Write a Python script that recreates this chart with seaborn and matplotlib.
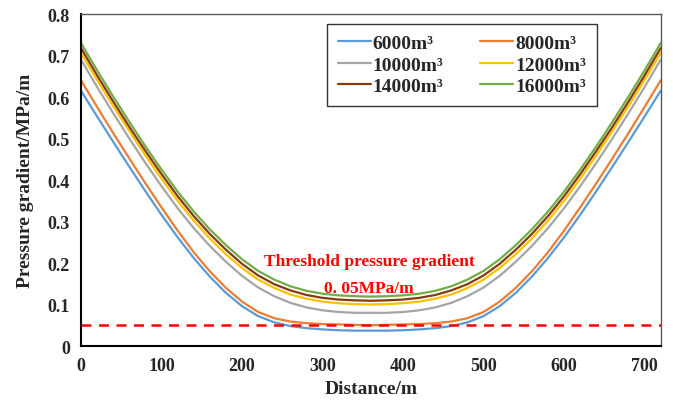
import numpy as np
import pandas as pd
import seaborn as sns
from matplotlib import pyplot as plt

# distance along the fracture, m
distance = list(range(0, 721, 20))

grad_6000 = [0.615, 0.553, 0.492, 0.432, 0.373, 0.316, 0.262, 0.212, 0.167, 0.128, 0.096, 0.072, 0.057,
             0.048, 0.043, 0.040, 0.038, 0.037, 0.037,
             0.037, 0.038, 0.040, 0.043, 0.048, 0.057, 0.072, 0.096, 0.128, 0.167, 0.212, 0.262,
             0.316, 0.373, 0.432, 0.492, 0.553, 0.615]
grad_8000 = [0.640, 0.576, 0.513, 0.452, 0.392, 0.334, 0.278, 0.226, 0.180, 0.140, 0.107, 0.082, 0.067,
             0.059, 0.055, 0.053, 0.052, 0.051, 0.050,
             0.051, 0.052, 0.053, 0.055, 0.059, 0.067, 0.082, 0.107, 0.140, 0.180, 0.226, 0.278,
             0.334, 0.392, 0.452, 0.513, 0.576, 0.640]
grad_10000 = [0.690, 0.624, 0.561, 0.500, 0.441, 0.385, 0.332, 0.284, 0.241, 0.203, 0.169, 0.141, 0.120,
              0.104, 0.093, 0.086, 0.082, 0.080, 0.080,
              0.080, 0.082, 0.086, 0.093, 0.104, 0.120, 0.141, 0.169, 0.203, 0.241, 0.284, 0.332,
              0.385, 0.441, 0.500, 0.561, 0.624, 0.690]
grad_12000 = [0.706, 0.641, 0.578, 0.518, 0.459, 0.403, 0.350, 0.302, 0.259, 0.221, 0.188, 0.160, 0.140,
              0.124, 0.114, 0.107, 0.103, 0.101, 0.100,
              0.101, 0.103, 0.107, 0.114, 0.124, 0.140, 0.160, 0.188, 0.221, 0.259, 0.302, 0.350,
              0.403, 0.459, 0.518, 0.578, 0.641, 0.706]
grad_14000 = [0.718, 0.652, 0.589, 0.528, 0.470, 0.414, 0.361, 0.313, 0.270, 0.232, 0.198, 0.170, 0.149,
              0.134, 0.123, 0.116, 0.112, 0.110, 0.109,
              0.110, 0.112, 0.116, 0.123, 0.134, 0.149, 0.170, 0.198, 0.232, 0.270, 0.313, 0.361,
              0.414, 0.470, 0.528, 0.589, 0.652, 0.718]
grad_16000 = [0.730, 0.664, 0.601, 0.540, 0.481, 0.425, 0.372, 0.324, 0.281, 0.243, 0.209, 0.181, 0.160,
              0.144, 0.133, 0.126, 0.122, 0.120, 0.119,
              0.120, 0.122, 0.126, 0.133, 0.144, 0.160, 0.181, 0.209, 0.243, 0.281, 0.324, 0.372,
              0.425, 0.481, 0.540, 0.601, 0.664, 0.730]

labels = ['6000m³', '8000m³', '10000m³', '12000m³', '14000m³', '16000m³']
colors = ['#5B9BD5', '#ED7D31', '#A5A5A5', '#FFC000', '#843C0C', '#70AD47']
threshold = 0.05

series = [grad_6000, grad_8000, grad_10000, grad_12000, grad_14000, grad_16000]
frames = []
for lab, vals in zip(labels, series):
    frames.append(pd.DataFrame({'Distance': distance, 'Gradient': vals, 'Volume': lab}))
df = pd.concat(frames, ignore_index=True)

sns.set_style('white')
plt.rcParams['font.family'] = ['Liberation Serif', 'DejaVu Serif']
plt.rcParams['font.weight'] = 'bold'

fig = plt.figure(figsize=(6.73, 4.06), dpi=100)
ax = fig.add_axes([0.1204, 0.1453, 0.8613, 0.8177])

sns.lineplot(data=df, x='Distance', y='Gradient', hue='Volume',
             palette=colors, linewidth=1.6, ax=ax, sort=False)

ax.axhline(threshold, color='#FF0000', linestyle=(0, (4, 3)), linewidth=1.8)
ax.text(358, 0.205, 'Threshold pressure gradient', color='#FF0000',
        fontsize=12.5, fontweight='bold', ha='center', va='center')
ax.text(358, 0.140, '0. 05MPa/m', color='#FF0000',
        fontsize=12.5, fontweight='bold', ha='center', va='center')

ax.set_xlim(0, 720)
ax.set_ylim(0, 0.8)
ax.set_xticks(range(0, 701, 100))
ax.set_yticks(np.arange(0, 0.81, 0.1))
ax.set_yticklabels(['0', '0.1', '0.2', '0.3', '0.4', '0.5', '0.6', '0.7', '0.8'])
ax.tick_params(direction='in', length=4, width=1, labelsize=13, pad=8)
for lab in ax.get_xticklabels() + ax.get_yticklabels():
    lab.set_fontweight('bold')

ax.set_xlabel('Distance/m', fontsize=14, fontweight='bold', labelpad=4)
ax.set_ylabel('Pressure gradient/MPa/m', fontsize=14, fontweight='bold', labelpad=10)

for side in ['left', 'bottom']:
    ax.spines[side].set_color('black')
    ax.spines[side].set_linewidth(1.5)
for side in ['top', 'right']:
    ax.spines[side].set_color('#595959')
    ax.spines[side].set_linewidth(1.0)

# row-wise legend order like the original
handles, _ = ax.get_legend_handles_labels()
order = [0, 2, 4, 1, 3, 5]
leg = ax.legend([handles[i] for i in order], [labels[i] for i in order],
                ncol=2, loc='upper right', bbox_to_anchor=(0.89, 0.97),
                borderaxespad=0, fontsize=14, frameon=True,
                fancybox=False, edgecolor='black', handlelength=1.7,
                handletextpad=0.1, columnspacing=1.9, labelspacing=0.2,
                borderpad=0.55)
leg.get_frame().set_linewidth(1.0)
for t in leg.get_texts():
    t.set_fontweight('bold')

plt.savefig('out.png', dpi=100)
